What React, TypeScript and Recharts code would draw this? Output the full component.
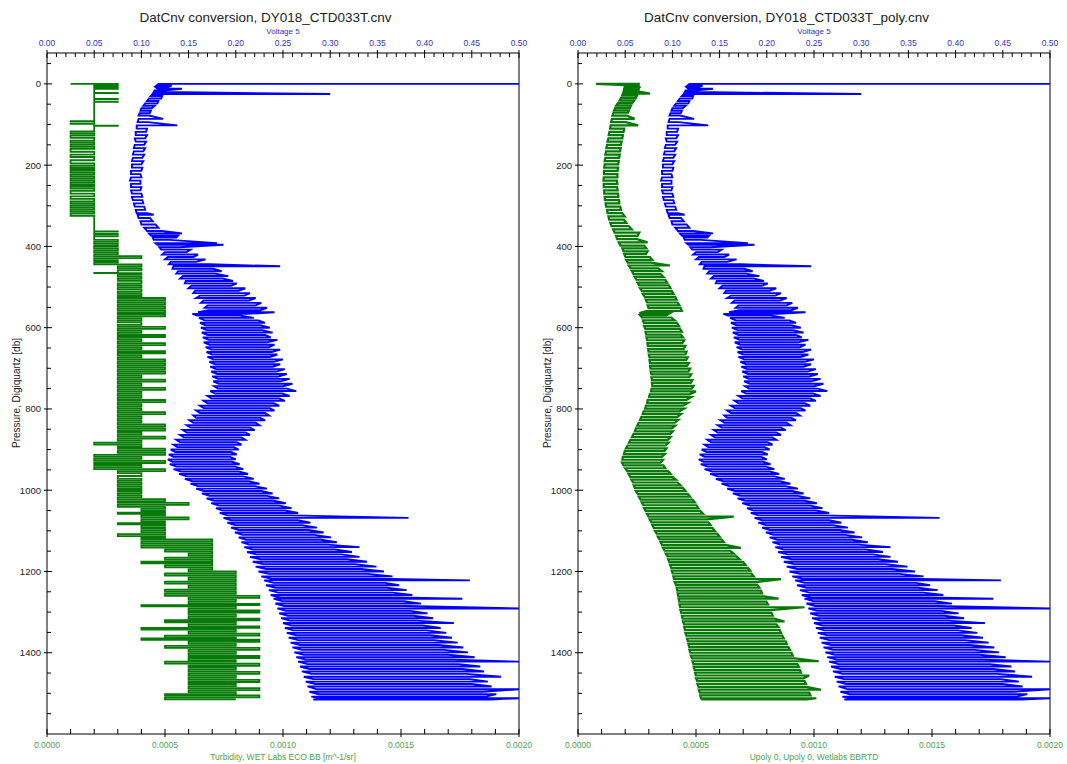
import React from "react";
import { ScatterChart, Scatter, XAxis, YAxis, ReferenceLine, Label } from "recharts";

// pressure [db], lowest and highest voltage swept at that depth
const voltageSweeps: [number, number, number][] = [
  [0, 0.118, 0.5], [4, 0.116, 0.132], [8, 0.115, 0.128], [12, 0.117, 0.143], [16, 0.114, 0.126],
  [20, 0.113, 0.125], [25, 0.112, 0.3], [30, 0.11, 0.122], [36, 0.108, 0.121], [42, 0.106, 0.118],
  [48, 0.104, 0.117], [54, 0.102, 0.114], [60, 0.1, 0.111], [66, 0.099, 0.11], [72, 0.098, 0.109],
  [78, 0.097, 0.108], [86, 0.097, 0.123], [94, 0.096, 0.107], [102, 0.095, 0.138], [110, 0.095, 0.106],
  [118, 0.094, 0.105], [126, 0.094, 0.106], [134, 0.093, 0.104], [142, 0.094, 0.105], [150, 0.093, 0.103],
  [158, 0.092, 0.104], [166, 0.092, 0.102], [174, 0.091, 0.103], [182, 0.091, 0.101], [190, 0.09, 0.102],
  [198, 0.09, 0.1], [206, 0.09, 0.101], [214, 0.089, 0.1], [222, 0.089, 0.099], [230, 0.089, 0.1],
  [238, 0.088, 0.099], [246, 0.089, 0.099], [254, 0.089, 0.1], [262, 0.089, 0.099], [270, 0.09, 0.1],
  [278, 0.09, 0.101], [286, 0.091, 0.101], [294, 0.092, 0.102], [302, 0.093, 0.103], [310, 0.094, 0.104],
  [318, 0.095, 0.106], [322, 0.096, 0.113], [330, 0.097, 0.109], [338, 0.099, 0.112], [346, 0.1, 0.115],
  [354, 0.103, 0.118], [362, 0.106, 0.122], [368, 0.108, 0.143], [373, 0.11, 0.139], [378, 0.112, 0.137],
  [384, 0.113, 0.13], [392, 0.115, 0.18], [396, 0.117, 0.187], [402, 0.119, 0.14],
  [408, 0.121, 0.152], [414, 0.125, 0.148], [420, 0.122, 0.16], [426, 0.128, 0.155], [432, 0.125, 0.168],
  [438, 0.131, 0.158], [444, 0.129, 0.172], [449, 0.134, 0.247], [455, 0.133, 0.176], [461, 0.139, 0.185],
  [467, 0.137, 0.178], [473, 0.144, 0.192], [479, 0.141, 0.186], [485, 0.147, 0.197], [491, 0.146, 0.201],
  [497, 0.153, 0.195], [503, 0.15, 0.21], [509, 0.157, 0.203], [515, 0.155, 0.215], [521, 0.162, 0.209],
  [527, 0.158, 0.221], [533, 0.166, 0.214], [539, 0.163, 0.227], [545, 0.17, 0.221], [551, 0.167, 0.233],
  [557, 0.171, 0.226], [562, 0.16, 0.241], [566, 0.154, 0.212], [570, 0.159, 0.204], [576, 0.161, 0.219],
  [582, 0.167, 0.224], [588, 0.162, 0.231], [594, 0.168, 0.226], [600, 0.163, 0.236], [606, 0.169, 0.228],
  [612, 0.164, 0.239], [618, 0.17, 0.231], [624, 0.165, 0.237], [630, 0.171, 0.244], [636, 0.166, 0.233],
  [642, 0.172, 0.241], [648, 0.168, 0.235], [654, 0.174, 0.247], [660, 0.169, 0.238], [666, 0.175, 0.244],
  [672, 0.17, 0.236], [678, 0.176, 0.25], [684, 0.172, 0.24], [690, 0.178, 0.247], [696, 0.173, 0.239],
  [702, 0.179, 0.252], [708, 0.174, 0.243], [714, 0.18, 0.254], [720, 0.175, 0.245], [726, 0.181, 0.257],
  [732, 0.176, 0.247], [738, 0.182, 0.26], [744, 0.177, 0.25], [750, 0.181, 0.254], [756, 0.173, 0.264],
  [762, 0.178, 0.249], [768, 0.17, 0.257], [774, 0.174, 0.246], [780, 0.166, 0.252], [786, 0.17, 0.24],
  [792, 0.162, 0.246], [798, 0.166, 0.236], [804, 0.158, 0.241], [810, 0.162, 0.231], [816, 0.155, 0.235],
  [822, 0.158, 0.226], [828, 0.151, 0.231], [834, 0.155, 0.221], [840, 0.148, 0.225], [846, 0.152, 0.215],
  [852, 0.144, 0.22], [858, 0.148, 0.21], [864, 0.141, 0.215], [870, 0.145, 0.206], [876, 0.137, 0.21],
  [882, 0.141, 0.201], [888, 0.134, 0.206], [894, 0.138, 0.198], [900, 0.131, 0.203], [906, 0.136, 0.195],
  [912, 0.129, 0.201], [918, 0.134, 0.194], [924, 0.128, 0.2], [930, 0.133, 0.196], [936, 0.13, 0.204],
  [942, 0.137, 0.199], [948, 0.134, 0.208], [954, 0.142, 0.203], [960, 0.14, 0.213], [966, 0.148, 0.208],
  [972, 0.146, 0.219], [978, 0.154, 0.214], [984, 0.152, 0.225], [990, 0.16, 0.22], [996, 0.158, 0.233],
  [1002, 0.166, 0.227], [1008, 0.164, 0.239], [1014, 0.172, 0.233], [1020, 0.169, 0.246], [1026, 0.177, 0.24],
  [1032, 0.174, 0.253], [1038, 0.182, 0.246], [1044, 0.179, 0.259], [1050, 0.186, 0.252], [1056, 0.183, 0.266],
  [1062, 0.191, 0.258], [1068, 0.187, 0.383], [1074, 0.195, 0.266], [1080, 0.191, 0.279], [1086, 0.199, 0.27],
  [1092, 0.195, 0.286], [1098, 0.203, 0.277], [1104, 0.199, 0.293], [1110, 0.207, 0.283], [1116, 0.203, 0.301],
  [1122, 0.211, 0.29], [1128, 0.206, 0.307], [1134, 0.214, 0.297], [1140, 0.209, 0.331], [1146, 0.218, 0.305],
  [1152, 0.212, 0.323], [1158, 0.222, 0.312], [1164, 0.215, 0.331], [1170, 0.226, 0.318], [1176, 0.218, 0.339],
  [1182, 0.229, 0.326], [1188, 0.221, 0.349], [1194, 0.232, 0.333], [1200, 0.224, 0.357], [1206, 0.235, 0.34],
  [1212, 0.227, 0.366], [1218, 0.238, 0.35], [1222, 0.23, 0.448], [1228, 0.24, 0.358], [1234, 0.232, 0.373],
  [1240, 0.242, 0.36], [1246, 0.235, 0.381], [1252, 0.245, 0.366], [1258, 0.237, 0.387], [1264, 0.247, 0.372],
  [1267, 0.24, 0.44], [1273, 0.249, 0.378], [1279, 0.242, 0.396], [1285, 0.251, 0.38], [1291, 0.244, 0.5],
  [1297, 0.253, 0.385], [1303, 0.246, 0.403], [1309, 0.255, 0.388], [1315, 0.248, 0.409], [1321, 0.257, 0.392],
  [1327, 0.25, 0.431], [1333, 0.259, 0.398], [1339, 0.252, 0.417], [1345, 0.261, 0.402], [1351, 0.254, 0.423],
  [1357, 0.264, 0.406], [1363, 0.256, 0.429], [1369, 0.266, 0.41], [1375, 0.258, 0.435], [1381, 0.268, 0.415],
  [1387, 0.26, 0.441], [1393, 0.27, 0.42], [1399, 0.262, 0.446], [1405, 0.272, 0.425], [1411, 0.264, 0.453],
  [1417, 0.274, 0.43], [1422, 0.266, 0.5], [1428, 0.276, 0.436], [1434, 0.268, 0.459], [1440, 0.278, 0.44],
  [1446, 0.27, 0.463], [1452, 0.28, 0.444], [1459, 0.272, 0.481], [1465, 0.282, 0.448], [1471, 0.274, 0.467],
  [1477, 0.284, 0.45], [1483, 0.276, 0.471], [1490, 0.286, 0.5], [1496, 0.278, 0.462], [1502, 0.288, 0.476],
  [1508, 0.28, 0.465], [1512, 0.29, 0.5], [1515, 0.282, 0.47],
];

// pressure [db], turbidity jumped from -> to (ECO BB counts are coarse steps)
const turbiditySteps: [number, number, number][] = [
  [0, 1e-4, 3e-4], [2, 3e-4, 2e-4], [4, 2e-4, 3e-4], [7, 3e-4, 2e-4], [9, 2e-4, 3e-4], [12, 3e-4, 2e-4],
  [22, 2e-4, 3e-4], [22.5, 3e-4, 2e-4], [37, 2e-4, 3e-4], [37.5, 3e-4, 2e-4], [44, 2e-4, 3e-4], [44.5, 3e-4, 2e-4],
  [92, 2e-4, 1e-4], [92.5, 1e-4, 2e-4], [98, 2e-4, 1e-4], [98.5, 1e-4, 2e-4], [103, 2e-4, 3e-4], [103.5, 3e-4, 2e-4],
  [117, 2e-4, 1e-4], [122, 1e-4, 2e-4], [127, 2e-4, 1e-4], [133, 1e-4, 2e-4], [140, 2e-4, 1e-4], [145, 1e-4, 2e-4],
  [150, 2e-4, 1e-4], [155, 1e-4, 2e-4], [160, 2e-4, 1e-4], [167, 1e-4, 2e-4], [174, 2e-4, 1e-4], [180, 1e-4, 2e-4],
  [188, 2e-4, 1e-4], [196, 1e-4, 2e-4], [202, 2e-4, 1e-4], [207, 1e-4, 2e-4], [212, 2e-4, 1e-4], [217, 1e-4, 2e-4],
  [222, 2e-4, 1e-4], [227, 1e-4, 2e-4], [232, 2e-4, 1e-4], [237, 1e-4, 2e-4], [242, 2e-4, 1e-4], [247, 1e-4, 2e-4],
  [252, 2e-4, 1e-4], [257, 1e-4, 2e-4], [263, 2e-4, 1e-4], [270, 1e-4, 2e-4], [277, 2e-4, 1e-4], [283, 1e-4, 2e-4],
  [289, 2e-4, 1e-4], [294, 1e-4, 2e-4], [299, 2e-4, 1e-4], [304, 1e-4, 2e-4], [309, 2e-4, 1e-4], [314, 1e-4, 2e-4],
  [319, 2e-4, 1e-4], [325, 1e-4, 2e-4],
  [363, 2e-4, 3e-4], [363.5, 3e-4, 2e-4], [369, 2e-4, 3e-4], [369.5, 3e-4, 2e-4], [375, 2e-4, 3e-4], [375.5, 3e-4, 2e-4],
  [384, 2e-4, 3e-4], [389, 3e-4, 2e-4], [394, 2e-4, 3e-4], [399, 3e-4, 2e-4], [404, 2e-4, 3e-4], [409, 3e-4, 2e-4],
  [414, 2e-4, 3e-4], [419, 3e-4, 2e-4], [424, 2e-4, 4e-4], [429, 4e-4, 2e-4], [434, 2e-4, 3e-4], [439, 3e-4, 2e-4],
  [444, 2e-4, 4e-4], [449, 4e-4, 3e-4], [454, 3e-4, 4e-4], [459, 4e-4, 3e-4], [465, 3e-4, 2e-4], [465.5, 2e-4, 4e-4],
  [470, 4e-4, 3e-4], [475, 3e-4, 4e-4], [480, 4e-4, 3e-4], [485, 3e-4, 4e-4], [491, 4e-4, 3e-4], [496, 3e-4, 4e-4],
  [501, 4e-4, 3e-4], [506, 3e-4, 4e-4], [512, 4e-4, 3e-4], [517, 3e-4, 4e-4], [522, 4e-4, 3e-4], [527, 3e-4, 5e-4],
  [532, 5e-4, 3e-4], [537, 3e-4, 5e-4], [542, 5e-4, 3e-4], [547, 3e-4, 5e-4], [552, 5e-4, 3e-4], [557, 3e-4, 5e-4],
  [562, 5e-4, 3e-4], [567, 3e-4, 5e-4], [572, 5e-4, 3e-4], [577, 3e-4, 4e-4], [582, 4e-4, 3e-4], [587, 3e-4, 4e-4],
  [593, 4e-4, 3e-4], [598, 3e-4, 5e-4], [603, 5e-4, 3e-4], [608, 3e-4, 4e-4], [613, 4e-4, 3e-4], [618, 3e-4, 5e-4],
  [623, 5e-4, 3e-4], [628, 3e-4, 4e-4], [633, 4e-4, 3e-4], [638, 3e-4, 5e-4], [643, 5e-4, 3e-4], [648, 3e-4, 4e-4],
  [653, 4e-4, 3e-4], [658, 3e-4, 5e-4], [663, 5e-4, 3e-4], [668, 3e-4, 4e-4], [673, 4e-4, 3e-4], [678, 3e-4, 5e-4],
  [683, 5e-4, 3e-4], [688, 3e-4, 5e-4], [693, 5e-4, 3e-4], [698, 3e-4, 5e-4], [703, 5e-4, 3e-4], [708, 3e-4, 5e-4],
  [713, 5e-4, 3e-4], [718, 3e-4, 4e-4], [723, 4e-4, 3e-4], [728, 3e-4, 5e-4], [733, 5e-4, 3e-4], [738, 3e-4, 4e-4],
  [743, 4e-4, 3e-4], [748, 3e-4, 5e-4], [753, 5e-4, 3e-4], [758, 3e-4, 4e-4], [763, 4e-4, 3e-4], [768, 3e-4, 4e-4],
  [773, 4e-4, 3e-4], [778, 3e-4, 5e-4], [783, 5e-4, 3e-4], [788, 3e-4, 4e-4], [793, 4e-4, 3e-4], [798, 3e-4, 4e-4],
  [803, 4e-4, 3e-4], [808, 3e-4, 5e-4], [813, 5e-4, 3e-4], [818, 3e-4, 4e-4], [823, 4e-4, 3e-4], [828, 3e-4, 4e-4],
  [833, 4e-4, 3e-4], [838, 3e-4, 5e-4], [843, 5e-4, 3e-4], [848, 3e-4, 5e-4], [853, 5e-4, 3e-4], [858, 3e-4, 4e-4],
  [863, 4e-4, 3e-4], [868, 3e-4, 5e-4], [873, 5e-4, 3e-4], [878, 3e-4, 4e-4], [883, 4e-4, 2e-4], [888, 2e-4, 4e-4],
  [893, 4e-4, 3e-4], [898, 3e-4, 5e-4], [903, 5e-4, 3e-4], [908, 3e-4, 5e-4], [913, 5e-4, 2e-4], [918, 2e-4, 4e-4],
  [923, 4e-4, 2e-4], [928, 2e-4, 5e-4], [933, 5e-4, 2e-4], [938, 2e-4, 4e-4], [943, 4e-4, 2e-4], [948, 2e-4, 5e-4],
  [953, 5e-4, 3e-4], [958, 3e-4, 4e-4], [965, 4e-4, 3e-4], [972, 3e-4, 4e-4], [977, 4e-4, 3e-4], [982, 3e-4, 4e-4],
  [987, 4e-4, 3e-4], [992, 3e-4, 4e-4], [997, 4e-4, 3e-4], [1002, 3e-4, 4e-4], [1007, 4e-4, 3e-4], [1012, 3e-4, 4e-4],
  [1017, 4e-4, 3e-4], [1022, 3e-4, 5e-4], [1027, 5e-4, 3e-4], [1031, 3e-4, 6e-4], [1036, 6e-4, 3e-4], [1041, 3e-4, 5e-4],
  [1046, 5e-4, 4e-4], [1051, 4e-4, 5e-4], [1055, 5e-4, 3e-4], [1058, 3e-4, 5e-4], [1062, 5e-4, 4e-4], [1067, 4e-4, 6e-4],
  [1072, 6e-4, 4e-4], [1077, 4e-4, 5e-4], [1081, 5e-4, 3e-4], [1084, 3e-4, 5e-4], [1088, 5e-4, 4e-4], [1093, 4e-4, 5e-4],
  [1098, 5e-4, 4e-4], [1103, 4e-4, 5e-4], [1108, 5e-4, 3e-4], [1113, 3e-4, 5e-4], [1117, 5e-4, 4e-4], [1121, 4e-4, 7e-4],
  [1126, 7e-4, 4e-4], [1131, 4e-4, 7e-4], [1136, 7e-4, 4e-4], [1141, 4e-4, 7e-4], [1146, 7e-4, 5e-4], [1151, 5e-4, 7e-4],
  [1156, 7e-4, 6e-4], [1161, 6e-4, 7e-4], [1166, 7e-4, 5e-4], [1171, 5e-4, 7e-4], [1176, 7e-4, 4e-4], [1180, 4e-4, 7e-4],
  [1185, 7e-4, 5e-4], [1190, 5e-4, 7e-4], [1195, 7e-4, 6e-4], [1200, 6e-4, 8e-4], [1205, 8e-4, 5e-4], [1210, 5e-4, 8e-4],
  [1215, 8e-4, 6e-4], [1220, 6e-4, 8e-4], [1225, 8e-4, 5e-4], [1230, 5e-4, 8e-4], [1235, 8e-4, 6e-4], [1240, 6e-4, 8e-4],
  [1245, 8e-4, 5e-4], [1250, 5e-4, 8e-4], [1255, 8e-4, 5e-4], [1260, 5e-4, 9e-4], [1265, 9e-4, 6e-4], [1270, 6e-4, 8e-4],
  [1275, 8e-4, 6e-4], [1280, 6e-4, 9e-4], [1283, 9e-4, 4e-4], [1286, 4e-4, 8e-4], [1291, 8e-4, 6e-4], [1296, 6e-4, 9e-4],
  [1301, 9e-4, 6e-4], [1306, 6e-4, 8e-4], [1311, 8e-4, 6e-4], [1316, 6e-4, 9e-4], [1320, 9e-4, 5e-4], [1325, 5e-4, 8e-4],
  [1330, 8e-4, 6e-4], [1335, 6e-4, 9e-4], [1339, 9e-4, 4e-4], [1343, 4e-4, 8e-4], [1348, 8e-4, 6e-4], [1353, 6e-4, 9e-4],
  [1358, 9e-4, 5e-4], [1363, 5e-4, 8e-4], [1365, 8e-4, 4e-4], [1368, 4e-4, 9e-4], [1373, 9e-4, 6e-4], [1378, 6e-4, 8e-4],
  [1383, 8e-4, 5e-4], [1388, 5e-4, 9e-4], [1393, 9e-4, 6e-4], [1398, 6e-4, 8e-4], [1403, 8e-4, 6e-4], [1408, 6e-4, 9e-4],
  [1413, 9e-4, 6e-4], [1418, 6e-4, 8e-4], [1422, 8e-4, 5e-4], [1427, 5e-4, 9e-4], [1432, 9e-4, 6e-4], [1437, 6e-4, 8e-4],
  [1442, 8e-4, 6e-4], [1447, 6e-4, 9e-4], [1452, 9e-4, 6e-4], [1457, 6e-4, 8e-4], [1462, 8e-4, 6e-4], [1467, 6e-4, 9e-4],
  [1472, 9e-4, 6e-4], [1477, 6e-4, 8e-4], [1482, 8e-4, 6e-4], [1487, 6e-4, 9e-4], [1492, 9e-4, 6e-4], [1497, 6e-4, 8e-4],
  [1502, 8e-4, 5e-4], [1505, 5e-4, 9e-4], [1510, 9e-4, 5e-4], [1515, 5e-4, 8e-4],
];

// pressure [db], lowest and highest Upoly turbidity swept at that depth
const upolySweeps: [number, number, number][] = [
  [0, 0.76e-4, 2.62e-4], [3, 2.02e-4, 2.55e-4], [7, 1.98e-4, 2.6e-4], [11, 1.96e-4, 2.58e-4], [15, 1.95e-4, 2.57e-4],
  [19, 1.93e-4, 2.6e-4], [24, 1.9e-4, 3.05e-4], [29, 1.87e-4, 2.5e-4], [35, 1.82e-4, 2.45e-4], [41, 1.76e-4, 2.38e-4],
  [47, 1.7e-4, 2.3e-4], [53, 1.62e-4, 2.25e-4], [59, 1.58e-4, 2.2e-4], [65, 1.53e-4, 2.16e-4], [71, 1.5e-4, 2.12e-4],
  [78, 1.46e-4, 2.08e-4], [86, 1.44e-4, 2.4e-4], [94, 1.4e-4, 2.02e-4], [102, 1.38e-4, 2.55e-4], [110, 1.36e-4, 1.96e-4],
  [118, 1.33e-4, 1.93e-4], [126, 1.3e-4, 1.9e-4], [134, 1.29e-4, 1.88e-4], [142, 1.25e-4, 1.85e-4], [150, 1.23e-4, 1.82e-4],
  [158, 1.2e-4, 1.81e-4], [166, 1.19e-4, 1.78e-4], [174, 1.16e-4, 1.77e-4], [182, 1.16e-4, 1.74e-4], [190, 1.13e-4, 1.73e-4],
  [198, 1.13e-4, 1.7e-4], [206, 1.11e-4, 1.7e-4], [214, 1.1e-4, 1.68e-4], [222, 1.1e-4, 1.67e-4], [230, 1.09e-4, 1.67e-4],
  [238, 1.08e-4, 1.65e-4], [246, 1.09e-4, 1.67e-4], [254, 1.09e-4, 1.66e-4], [262, 1.11e-4, 1.68e-4], [270, 1.11e-4, 1.7e-4],
  [278, 1.13e-4, 1.71e-4], [286, 1.14e-4, 1.74e-4], [294, 1.17e-4, 1.75e-4], [302, 1.19e-4, 1.79e-4], [310, 1.23e-4, 1.82e-4],
  [318, 1.25e-4, 1.87e-4], [326, 1.29e-4, 1.98e-4], [334, 1.32e-4, 1.95e-4], [342, 1.37e-4, 2.05e-4], [350, 1.42e-4, 2.15e-4],
  [358, 1.49e-4, 2.28e-4], [366, 1.55e-4, 2.6e-4], [374, 1.61e-4, 2.52e-4], [382, 1.66e-4, 2.5e-4], [390, 1.73e-4, 2.95e-4],
  [398, 1.8e-4, 2.8e-4], [405, 1.88e-4, 2.9e-4], [412, 1.93e-4, 2.95e-4], [419, 1.96e-4, 2.88e-4], [426, 2.01e-4, 3.05e-4],
  [433, 2.04e-4, 3.15e-4], [440, 2.11e-4, 3.1e-4], [447, 2.15e-4, 3.9e-4], [454, 2.23e-4, 3.4e-4], [461, 2.28e-4, 3.55e-4],
  [468, 2.35e-4, 3.5e-4], [475, 2.4e-4, 3.62e-4], [482, 2.47e-4, 3.7e-4], [489, 2.52e-4, 3.78e-4], [496, 2.59e-4, 3.85e-4],
  [503, 2.63e-4, 3.92e-4], [510, 2.71e-4, 3.98e-4], [517, 2.75e-4, 4.05e-4], [524, 2.83e-4, 4.12e-4], [531, 2.87e-4, 4.18e-4],
  [538, 2.93e-4, 4.22e-4], [545, 2.95e-4, 4.3e-4], [552, 2.99e-4, 4.35e-4], [559, 2.9e-4, 4.4e-4], [564, 2.6e-4, 3.9e-4],
  [569, 2.62e-4, 3.75e-4], [575, 2.71e-4, 3.95e-4], [582, 2.75e-4, 4.1e-4], [589, 2.79e-4, 4.2e-4], [596, 2.8e-4, 4.28e-4],
  [603, 2.85e-4, 4.32e-4], [610, 2.86e-4, 4.4e-4], [617, 2.89e-4, 4.36e-4], [624, 2.9e-4, 4.45e-4], [631, 2.93e-4, 4.5e-4],
  [638, 2.94e-4, 4.42e-4], [645, 2.96e-4, 4.55e-4], [652, 2.97e-4, 4.48e-4], [659, 2.99e-4, 4.6e-4], [666, 3.0e-4, 4.55e-4],
  [673, 3.03e-4, 4.65e-4], [680, 3.03e-4, 4.58e-4], [687, 3.05e-4, 4.7e-4], [694, 3.05e-4, 4.62e-4], [701, 3.07e-4, 4.75e-4],
  [708, 3.08e-4, 4.68e-4], [715, 3.11e-4, 4.8e-4], [722, 3.11e-4, 4.72e-4], [729, 3.13e-4, 4.85e-4], [736, 3.13e-4, 4.78e-4],
  [743, 3.15e-4, 4.9e-4], [750, 3.12e-4, 4.82e-4], [757, 3.09e-4, 5.0e-4], [764, 3.04e-4, 4.72e-4], [771, 3.01e-4, 4.8e-4],
  [778, 2.95e-4, 4.6e-4], [785, 2.93e-4, 4.66e-4], [792, 2.88e-4, 4.45e-4], [799, 2.85e-4, 4.5e-4], [806, 2.78e-4, 4.3e-4],
  [813, 2.74e-4, 4.36e-4], [820, 2.68e-4, 4.2e-4], [827, 2.63e-4, 4.25e-4], [834, 2.57e-4, 4.1e-4], [841, 2.51e-4, 4.12e-4],
  [848, 2.45e-4, 3.98e-4], [855, 2.41e-4, 4.02e-4], [862, 2.35e-4, 3.9e-4], [869, 2.29e-4, 3.92e-4], [876, 2.22e-4, 3.8e-4],
  [883, 2.16e-4, 3.84e-4], [890, 2.1e-4, 3.72e-4], [897, 2.03e-4, 3.75e-4], [904, 1.98e-4, 3.66e-4], [911, 1.95e-4, 3.68e-4],
  [918, 1.9e-4, 3.55e-4], [925, 1.88e-4, 3.6e-4], [932, 1.86e-4, 3.5e-4], [939, 1.93e-4, 3.62e-4], [946, 2.0e-4, 3.7e-4],
  [953, 2.09e-4, 3.82e-4], [960, 2.14e-4, 3.92e-4], [967, 2.21e-4, 4.0e-4], [974, 2.26e-4, 4.15e-4], [981, 2.33e-4, 4.22e-4],
  [988, 2.36e-4, 4.35e-4], [995, 2.41e-4, 4.45e-4], [1002, 2.45e-4, 4.55e-4], [1009, 2.53e-4, 4.65e-4], [1016, 2.58e-4, 4.75e-4],
  [1023, 2.65e-4, 4.85e-4], [1030, 2.7e-4, 4.95e-4], [1037, 2.77e-4, 5.02e-4], [1044, 2.8e-4, 5.1e-4], [1051, 2.86e-4, 5.18e-4],
  [1058, 2.92e-4, 5.3e-4], [1065, 2.99e-4, 6.6e-4], [1072, 3.04e-4, 5.45e-4], [1079, 3.11e-4, 5.52e-4], [1086, 3.15e-4, 5.62e-4],
  [1093, 3.21e-4, 5.7e-4], [1100, 3.26e-4, 5.8e-4], [1107, 3.33e-4, 5.9e-4], [1114, 3.38e-4, 6.0e-4], [1121, 3.45e-4, 6.08e-4],
  [1128, 3.5e-4, 6.18e-4], [1135, 3.56e-4, 6.3e-4], [1142, 3.6e-4, 6.9e-4], [1149, 3.67e-4, 6.45e-4], [1156, 3.72e-4, 6.6e-4],
  [1163, 3.79e-4, 6.72e-4], [1170, 3.82e-4, 6.85e-4], [1177, 3.87e-4, 7.0e-4], [1184, 3.9e-4, 7.1e-4], [1191, 3.95e-4, 7.2e-4],
  [1198, 3.97e-4, 7.3e-4], [1205, 4.01e-4, 7.35e-4], [1212, 4.04e-4, 7.45e-4], [1219, 4.07e-4, 8.6e-4], [1226, 4.1e-4, 7.55e-4],
  [1233, 4.15e-4, 7.6e-4], [1240, 4.18e-4, 7.68e-4], [1247, 4.21e-4, 7.75e-4], [1254, 4.22e-4, 7.8e-4], [1261, 4.25e-4, 7.9e-4],
  [1267, 4.26e-4, 8.5e-4], [1274, 4.29e-4, 7.98e-4], [1281, 4.3e-4, 8.05e-4], [1288, 4.33e-4, 9.6e-4], [1295, 4.34e-4, 8.15e-4],
  [1302, 4.37e-4, 8.2e-4], [1309, 4.4e-4, 8.25e-4], [1316, 4.43e-4, 8.32e-4], [1323, 4.45e-4, 8.75e-4], [1330, 4.49e-4, 8.4e-4],
  [1337, 4.5e-4, 8.5e-4], [1344, 4.53e-4, 8.55e-4], [1351, 4.55e-4, 8.6e-4], [1358, 4.59e-4, 8.66e-4], [1365, 4.62e-4, 8.72e-4],
  [1372, 4.66e-4, 8.8e-4], [1379, 4.68e-4, 8.85e-4], [1386, 4.71e-4, 8.92e-4], [1393, 4.72e-4, 8.98e-4], [1400, 4.76e-4, 9.05e-4],
  [1407, 4.78e-4, 9.1e-4], [1414, 4.83e-4, 9.18e-4], [1421, 4.85e-4, 10.2e-4], [1428, 4.89e-4, 9.3e-4], [1435, 4.9e-4, 9.36e-4],
  [1442, 4.94e-4, 9.4e-4], [1449, 4.96e-4, 9.45e-4], [1456, 4.99e-4, 9.8e-4], [1463, 5.0e-4, 9.55e-4], [1470, 5.05e-4, 9.6e-4],
  [1477, 5.06e-4, 9.66e-4], [1484, 5.11e-4, 9.7e-4], [1491, 5.12e-4, 10.3e-4], [1498, 5.16e-4, 9.8e-4], [1505, 5.18e-4, 9.85e-4],
  [1512, 5.21e-4, 10.1e-4], [1515, 5.22e-4, 9.7e-4],
];

const pressureTicks = [
  -50, 0, 50, 100, 150, 200, 250, 300, 350, 400, 450, 500, 550, 600, 650, 700, 750, 800,
  850, 900, 950, 1000, 1050, 1100, 1150, 1200, 1250, 1300, 1350, 1400, 1450, 1500, 1550,
];
const voltageTicks = [
  0, 0.01, 0.02, 0.03, 0.04, 0.05, 0.06, 0.07, 0.08, 0.09, 0.1, 0.11, 0.12, 0.13, 0.14, 0.15, 0.16,
  0.17, 0.18, 0.19, 0.2, 0.21, 0.22, 0.23, 0.24, 0.25, 0.26, 0.27, 0.28, 0.29, 0.3, 0.31, 0.32, 0.33,
  0.34, 0.35, 0.36, 0.37, 0.38, 0.39, 0.4, 0.41, 0.42, 0.43, 0.44, 0.45, 0.46, 0.47, 0.48, 0.49, 0.5,
];
const turbidityTicks = [
  0, 0.0001, 0.0002, 0.0003, 0.0004, 0.0005, 0.0006, 0.0007, 0.0008, 0.0009, 0.001, 0.0011, 0.0012,
  0.0013, 0.0014, 0.0015, 0.0016, 0.0017, 0.0018, 0.0019, 0.002,
];

const FONT = '"Liberation Sans", Arial, sans-serif';
const BLUE_TEXT = "#3535c0";
const GREEN_TEXT = "#4f9f4f";

// sweeps alternate direction so the trace zigzags like the raw scan record
const zigzag = (rows: [number, number, number][], key: string) =>
  rows.flatMap(([p, lo, hi], i) =>
    i % 2 === 0 ? [{ p, [key]: hi }, { p, [key]: lo }] : [{ p, [key]: lo }, { p, [key]: hi }]
  );
const steps = (rows: [number, number, number][], key: string) =>
  rows.flatMap(([p, a, b]) => [{ p, [key]: a }, { p, [key]: b }]);

const voltageData = zigzag(voltageSweeps, "v");
const turbidityData = steps(turbiditySteps, "t");
const upolyData = zigzag(upolySweeps, "t");

const NoDot = () => <g />;

const PressureTick = ({ x, y, payload }: any) => {
  const v = payload.value;
  const major = v % 200 === 0 && v >= 0 && v <= 1400;
  return (
    <g>
      <line x1={major ? x - 3 : x} x2={x + (major ? 5 : 4)} y1={y} y2={y} stroke="#000" />
      {major && (
        <text x={x - 6} y={y + 3.5} textAnchor="end" fontSize={9.5} fontFamily={FONT} fill="#222">
          {v}
        </text>
      )}
    </g>
  );
};

const VoltageTick = ({ x, y, payload }: any) => {
  const v = payload.value;
  const major = Math.round(v * 100) % 5 === 0;
  return (
    <g>
      <line x1={x} x2={x} y1={major ? y - 3 : y} y2={y + (major ? 5 : 4)} stroke="#000" />
      {major && (
        <text x={x} y={y - 7} textAnchor="middle" fontSize={8.5} fontFamily={FONT} fill={BLUE_TEXT}>
          {v.toFixed(2)}
        </text>
      )}
    </g>
  );
};

const TurbidityTick = ({ x, y, payload }: any) => {
  const v = payload.value;
  const major = Math.round(v * 10000) % 5 === 0;
  return (
    <g>
      <line x1={x} x2={x} y1={y - 5} y2={major ? y + 3 : y} stroke="#000" />
      {major && (
        <text x={x} y={y + 14} textAnchor="middle" fontSize={8.5} fontFamily={FONT} fill={GREEN_TEXT}>
          {v.toFixed(4)}
        </text>
      )}
    </g>
  );
};

interface PanelProps {
  left: number;
  title: string;
  titleX: number;
  turbLabel: string;
  turb: { p: number; t: number }[];
  turbWidth: number;
}

const Panel = ({ left, title, titleX, turbLabel, turb, turbWidth }: PanelProps) => (
  <div style={{ position: "absolute", left, top: 0, width: 533, height: 764 }}>
    <div
      style={{
        position: "absolute",
        left: titleX - 266,
        top: 10,
        width: 533,
        textAlign: "center",
        fontFamily: FONT,
        fontSize: 13.5,
        lineHeight: "16px",
        color: "#222",
        whiteSpace: "nowrap",
      }}
    >
      {title}
    </div>
    <ScatterChart width={533} height={764} margin={{ top: 0, right: 14, bottom: 0, left: 0 }}>
      <XAxis
        xAxisId="v"
        dataKey="v"
        type="number"
        orientation="top"
        domain={[0, 0.5]}
        ticks={voltageTicks}
        interval={0}
        tickSize={0}
        tickMargin={0}
        tickLine={false}
        tick={<VoltageTick />}
        height={53}
        axisLine={{ stroke: "#000" }}
        allowDataOverflow
      >
        <Label
          content={() => (
            <text x={283} y={34} textAnchor="middle" fontSize={8} fontFamily={FONT} fill={BLUE_TEXT}>
              Voltage 5
            </text>
          )}
        />
      </XAxis>
      <XAxis
        xAxisId="t"
        dataKey="t"
        type="number"
        orientation="bottom"
        domain={[0, 0.002]}
        ticks={turbidityTicks}
        interval={0}
        tickSize={0}
        tickMargin={0}
        tickLine={false}
        tick={<TurbidityTick />}
        height={30}
        axisLine={{ stroke: "#000" }}
        allowDataOverflow
      >
        <Label
          content={() => (
            <text x={283} y={760} textAnchor="middle" fontSize={8.5} fontFamily={FONT} fill={GREEN_TEXT}>
              {turbLabel}
            </text>
          )}
        />
      </XAxis>
      <YAxis
        dataKey="p"
        type="number"
        reversed
        domain={[-76, 1600]}
        ticks={pressureTicks}
        interval={0}
        tickSize={0}
        tickMargin={0}
        tickLine={false}
        tick={<PressureTick />}
        width={47}
        axisLine={{ stroke: "#000" }}
        allowDataOverflow
      >
        <Label
          content={() => (
            <text
              transform="translate(20,393) rotate(-90)"
              textAnchor="middle"
              fontSize={10}
              fontFamily={FONT}
              fill="#222"
            >
              Pressure, Digiquartz [db]
            </text>
          )}
        />
      </YAxis>
      <ReferenceLine xAxisId="v" x={0.5} stroke="#000" />
      <Scatter
        data={turb}
        xAxisId="t"
        line={{ stroke: "#067a06", strokeWidth: turbWidth }}
        shape={NoDot}
        legendType="none"
        isAnimationActive={false}
      />
      <Scatter
        data={voltageData}
        xAxisId="v"
        line={{ stroke: "#0000ff", strokeWidth: 1.9 }}
        shape={NoDot}
        legendType="none"
        isAnimationActive={false}
      />
    </ScatterChart>
  </div>
);

export default function App() {
  return (
    <div style={{ position: "absolute", left: 0, top: 0, width: 1067, height: 764, background: "#fff" }}>
      <Panel
        left={0}
        title="DatCnv conversion, DY018_CTD033T.cnv"
        titleX={265}
        turbLabel="Turbidity, WET Labs ECO BB [m^-1/sr]"
        turb={turbidityData as { p: number; t: number }[]}
        turbWidth={1.8}
      />
      <Panel
        left={531}
        title="DatCnv conversion, DY018_CTD033T_poly.cnv"
        titleX={255}
        turbLabel="Upoly 0, Upoly 0, Wetlabs BBRTD"
        turb={upolyData as { p: number; t: number }[]}
        turbWidth={2.2}
      />
    </div>
  );
}
